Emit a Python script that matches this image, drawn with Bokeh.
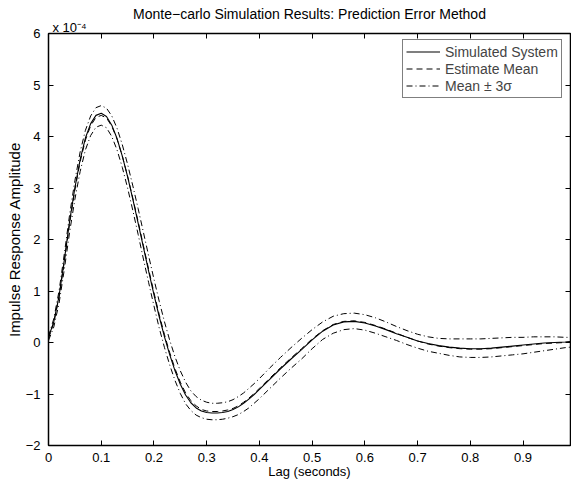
from bokeh.plotting import figure
from bokeh.models import LinearAxis, FixedTicker, Legend, LegendItem, Range1d, Title
from bokeh.embed import file_html
from bokeh.resources import INLINE

# Lag (seconds)
lag = [0.00, 0.01, 0.02, 0.03, 0.04, 0.05, 0.06, 0.07, 0.08, 0.09,
       0.10, 0.11, 0.12, 0.13, 0.14, 0.15, 0.16, 0.17, 0.18, 0.19,
       0.20, 0.21, 0.22, 0.23, 0.24, 0.25, 0.26, 0.27, 0.28, 0.29,
       0.30, 0.31, 0.32, 0.33, 0.34, 0.35, 0.36, 0.37, 0.38, 0.39,
       0.40, 0.42, 0.44, 0.46, 0.48, 0.50, 0.52, 0.54, 0.56, 0.58,
       0.60, 0.62, 0.64, 0.66, 0.68, 0.70, 0.72, 0.74, 0.76, 0.78,
       0.80, 0.82, 0.84, 0.86, 0.88, 0.90, 0.92, 0.94, 0.96, 0.98, 0.99]

# Impulse response amplitudes, in units of 1e-4
simulated = [0.10, 0.40, 0.90, 1.60, 2.35, 3.00, 3.55, 3.97, 4.25, 4.41,
             4.45, 4.39, 4.22, 3.96, 3.62, 3.22, 2.78, 2.32, 1.85, 1.38,
             0.93, 0.50, 0.11, -0.24, -0.55, -0.81, -1.02, -1.17, -1.27, -1.33,
             -1.36, -1.37, -1.37, -1.36, -1.34, -1.30, -1.25, -1.18, -1.10, -1.01,
             -0.91, -0.71, -0.51, -0.32, -0.14, 0.05, 0.22, 0.34, 0.40, 0.41,
             0.38, 0.32, 0.25, 0.17, 0.10, 0.03, -0.02, -0.06, -0.09, -0.11,
             -0.12, -0.12, -0.11, -0.09, -0.07, -0.05, -0.03, -0.01, 0.00, 0.01, 0.02]

estimate_mean = [0.08, 0.38, 0.88, 1.57, 2.31, 2.96, 3.51, 3.93, 4.21, 4.37,
                 4.41, 4.36, 4.20, 3.95, 3.62, 3.23, 2.80, 2.35, 1.88, 1.42,
                 0.97, 0.54, 0.15, -0.20, -0.51, -0.77, -0.98, -1.13, -1.23, -1.30,
                 -1.33, -1.34, -1.34, -1.33, -1.31, -1.28, -1.23, -1.16, -1.08, -0.99,
                 -0.89, -0.69, -0.49, -0.30, -0.12, 0.07, 0.23, 0.35, 0.41, 0.42,
                 0.39, 0.33, 0.26, 0.18, 0.10, 0.03, -0.03, -0.07, -0.10, -0.12,
                 -0.13, -0.13, -0.12, -0.10, -0.08, -0.06, -0.04, -0.02, -0.01, 0.00, 0.01]

mean_plus_3sigma = [0.12, 0.46, 1.00, 1.72, 2.48, 3.14, 3.70, 4.12, 4.40, 4.56,
                    4.60, 4.55, 4.40, 4.16, 3.84, 3.46, 3.04, 2.60, 2.14, 1.68,
                    1.23, 0.80, 0.40, 0.04, -0.28, -0.55, -0.77, -0.94, -1.05, -1.12,
                    -1.16, -1.18, -1.18, -1.17, -1.15, -1.11, -1.05, -0.98, -0.89, -0.80,
                    -0.70, -0.49, -0.29, -0.10, 0.08, 0.25, 0.40, 0.51, 0.56, 0.57,
                    0.54, 0.48, 0.40, 0.31, 0.23, 0.16, 0.11, 0.08, 0.07, 0.07,
                    0.07, 0.07, 0.08, 0.09, 0.10, 0.10, 0.11, 0.11, 0.11, 0.10, 0.10]

mean_minus_3sigma = [0.04, 0.30, 0.76, 1.42, 2.14, 2.78, 3.32, 3.74, 4.02, 4.18,
                     4.22, 4.17, 4.00, 3.74, 3.40, 3.00, 2.56, 2.10, 1.62, 1.16,
                     0.71, 0.28, -0.10, -0.44, -0.74, -0.99, -1.19, -1.32, -1.41, -1.46,
                     -1.49, -1.50, -1.50, -1.49, -1.47, -1.44, -1.40, -1.34, -1.27, -1.18,
                     -1.09, -0.89, -0.69, -0.50, -0.32, -0.12, 0.06, 0.18, 0.25, 0.27,
                     0.24, 0.18, 0.11, 0.04, -0.04, -0.11, -0.17, -0.21, -0.25, -0.28,
                     -0.29, -0.29, -0.28, -0.26, -0.24, -0.22, -0.19, -0.16, -0.13, -0.10, -0.09]

x_ticks = [0, 0.1, 0.2, 0.3, 0.4, 0.5, 0.6, 0.7, 0.8, 0.9]
y_ticks = [-2, -1, 0, 1, 2, 3, 4, 5, 6]
y_tick_labels = {-2: "\u22122", -1: "\u22121", 0: "0", 1: "1", 2: "2", 3: "3", 4: "4", 5: "5", 6: "6"}

FONT = "Liberation Sans"
FS = "13px"

p = figure(width=571, height=481, output_backend="svg", toolbar_location=None,
           title=None,
           x_range=Range1d(0, 0.99), y_range=Range1d(-2, 6),
           min_border_left=48, min_border_right=1, min_border_top=33, min_border_bottom=36,
           background_fill_color="white", border_fill_color="white")
p.outline_line_color = "black"
p.outline_line_width = 1
p.xgrid.visible = False
p.ygrid.visible = False

def style_axis(ax, labels=True, ticks=None):
    ax.axis_line_width = 1.5
    ax.axis_line_color = "black"
    ax.major_tick_in = 5
    ax.major_tick_out = 0
    ax.major_tick_line_color = "black"
    ax.minor_tick_line_color = None
    ax.major_label_text_font = FONT
    ax.major_label_text_font_size = FS
    ax.major_label_text_color = "black"
    ax.axis_label_text_font = FONT
    ax.axis_label_text_font_size = FS
    ax.axis_label_text_font_style = "normal"
    ax.axis_label_text_color = "black"
    if not labels:
        ax.major_label_overrides = {t: "" for t in ticks}
        ax.major_label_text_font_size = "1px"
        ax.major_label_standoff = 0

# the standard bottom / left axes
xa = p.below[0]
ya = p.left[0]

# top axis first so it sits right on the frame
top = LinearAxis(ticker=FixedTicker(ticks=x_ticks))
style_axis(top, labels=False, ticks=x_ticks)
p.add_layout(top, "above")
right = LinearAxis(ticker=FixedTicker(ticks=y_ticks))
style_axis(right, labels=False, ticks=y_ticks)
p.add_layout(right, "right")

# scale factor text just above the frame
scale_title = Title(text="x 10\u207b\u2074", align="left", text_font=FONT, text_font_size=FS,
                    text_font_style="normal", text_color="black", standoff=-2, offset=4)
p.add_layout(scale_title, "above")
main_title = Title(text="Monte\u2212carlo Simulation Results: Prediction Error Method",
                   align="center", text_font=FONT, text_font_size="14px",
                   text_font_style="normal", text_color="black", standoff=-6)
p.add_layout(main_title, "above")

xa.ticker = FixedTicker(ticks=x_ticks)
xa.axis_label = "Lag (seconds)"
style_axis(xa)
xa.major_label_standoff = 7
xa.axis_label_standoff = -1

ya.ticker = FixedTicker(ticks=y_ticks)
ya.major_label_overrides = y_tick_labels
ya.axis_label = "Impulse Response Amplitude"
style_axis(ya)
ya.axis_label_text_font_size = "15px"
ya.major_label_standoff = 8
ya.axis_label_standoff = 0

r_sim = p.line(lag, simulated, line_color="black", line_width=1.1)
r_mean = p.line(lag, estimate_mean, line_color="black", line_width=1, line_dash="6 4")
r_up = p.line(lag, mean_plus_3sigma, line_color="black", line_width=1, line_dash="6 3 1 3")
r_lo = p.line(lag, mean_minus_3sigma, line_color="black", line_width=1, line_dash="6 3 1 3")

legend = Legend(items=[LegendItem(label="Simulated System", renderers=[r_sim]),
                       LegendItem(label="Estimate Mean", renderers=[r_mean]),
                       LegendItem(label="Mean \u00b1 3\u03c3", renderers=[r_up])],
                location=(354, 347))
legend.border_line_color = "black"
legend.border_line_width = 1
legend.background_fill_color = "white"
legend.background_fill_alpha = 1
legend.label_text_font = FONT
legend.label_text_font_size = "14px"
legend.glyph_width = 34
legend.glyph_height = 17
legend.label_height = 17
legend.spacing = 0
legend.padding = 3
legend.margin = 0
legend.label_standoff = 5
p.add_layout(legend)

open("out.html", "w").write(file_html(p, INLINE))
